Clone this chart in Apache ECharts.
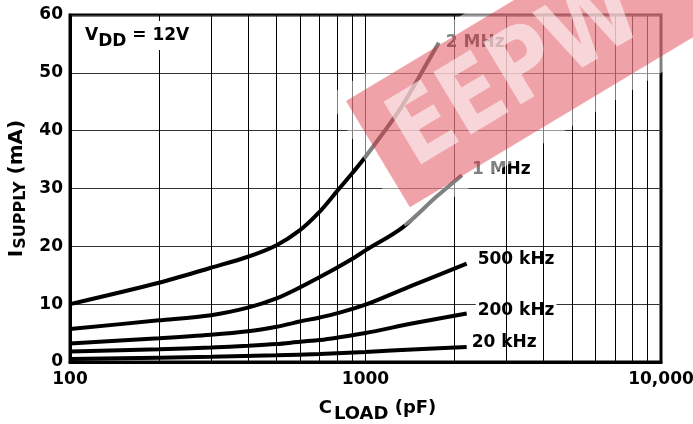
<!DOCTYPE html>
<html><head><meta charset="utf-8">
<script src="https://cdn.jsdelivr.net/npm/echarts@6/dist/echarts.min.js"></script>
<style>html,body{margin:0;padding:0;background:#fff}#c{width:693px;height:424px}</style>
</head><body><div id="c"></div>
<script>
// ---- data ----
const xTickLabels = { 100: '100', 1000: '1000', 10000: '10,000' };
const minorGridX = [200, 300, 400, 500, 600, 700, 800, 900, 2000, 3000, 4000, 5000, 6000, 7000, 8000, 9000];
const seriesNames = ['2 MHz', '1 MHz', '500 kHz', '200 kHz', '20 kHz'];

const c2MHz = [100, 200, 300, 400, 500, 600, 700, 800, 900, 1000, 1300, 1650, 1770];
const i2MHz = [10, 13.7, 16.3, 18.2, 20.2, 22.8, 26.0, 29.5, 32.6, 35.5, 43.5, 52.5, 55.2];

const c1MHz = [100, 200, 300, 400, 500, 600, 700, 800, 900, 1000, 1330, 1740, 2120];
const i1MHz = [5.7, 7.2, 8.1, 9.4, 11.0, 12.9, 14.7, 16.3, 17.8, 19.3, 23.2, 28.6, 32.3];

const c500k = [100, 200, 300, 400, 500, 600, 700, 800, 1000, 1450, 2200];
const i500k = [3.2, 4.1, 4.7, 5.3, 6.1, 7.0, 7.7, 8.4, 9.9, 13.3, 17.0];

const c200k = [100, 200, 300, 400, 500, 600, 700, 800, 1000, 1450, 2200];
const i200k = [1.8, 2.2, 2.5, 2.8, 3.1, 3.5, 3.8, 4.2, 5.0, 6.7, 8.4];

const c20k = [100, 200, 300, 500, 700, 1000, 1500, 2200];
const i20k = [0.5, 0.75, 0.9, 1.15, 1.4, 1.75, 2.2, 2.6];

// ---- chart ----
const FONT = '"DejaVu Sans", sans-serif';
const zip = (xs, ys) => xs.map((x, i) => [x, ys[i]]);
const curves = [
  { name: seriesNames[0], data: zip(c2MHz, i2MHz), off: [5, 0] },
  { name: seriesNames[1], data: zip(c1MHz, i1MHz), off: [8, -6] },
  { name: seriesNames[2], data: zip(c500k, i500k), off: [9, -4] },
  { name: seriesNames[3], data: zip(c200k, i200k), off: [9, -3] },
  { name: seriesNames[4], data: zip(c20k, i20k), off: [3, -4] }
];

const series = curves.map((c) => ({
  type: 'line', name: c.name, data: c.data, smooth: 0.3, symbol: 'none',
  lineStyle: { color: '#000', width: 4 }, z: 3,
  endLabel: {
    show: true, formatter: '{a}', distance: 0, offset: c.off,
    fontFamily: FONT, fontWeight: 'bold', fontSize: 17, color: '#000',
    backgroundColor: '#fff', padding: [0, 2]
  },
  animation: false
}));
series.push({
  type: 'line', data: [], z: 1, animation: false,
  markLine: {
    silent: true, symbol: ['none', 'none'], label: { show: false },
    lineStyle: { color: '#000', width: 1, type: 'solid' },
    data: minorGridX.map(v => ({ xAxis: v })), animation: false
  }
});

const DEG = Math.PI / 180;
const chart = echarts.init(document.getElementById('c'));
chart.setOption({
  backgroundColor: '#fff',
  animation: false,
  grid: {
    left: 70, right: 32, top: 15, bottom: 62, containLabel: false, outerBoundsMode: 'none',
    show: true, borderColor: '#000', borderWidth: 3
  },
  xAxis: {
    type: 'log', logBase: 10, min: 100, max: 10000,
    axisLine: { show: true, lineStyle: { color: '#000', width: 3 } },
    axisTick: { show: false },
    splitLine: { show: true, lineStyle: { color: '#000', width: 1 } },
    axisLabel: {
      margin: 9, fontFamily: FONT, fontWeight: 'bold', fontSize: 17, color: '#000',
      formatter: v => xTickLabels[Math.round(v)] || ''
    },
    name: '{n|C}{s|LOAD}{n| (pF)}', nameLocation: 'middle', nameGap: 31,
    nameTextStyle: {
      padding: [0, 0, 0, 24],
      rich: {
        n: { fontFamily: FONT, fontWeight: 'bold', fontSize: 18, color: '#000' },
        s: { fontFamily: FONT, fontWeight: 'bold', fontSize: 18, color: '#000', padding: [12, 0, 0, 2] }
      }
    }
  },
  yAxis: {
    type: 'value', min: 0, max: 60, interval: 10,
    axisLine: { show: true, lineStyle: { color: '#000', width: 3 } },
    axisTick: { show: false },
    splitLine: { show: true, lineStyle: { color: '#333', width: 1 } },
    axisLabel: { margin: 7, fontFamily: FONT, fontWeight: 'bold', fontSize: 17, color: '#000' },
    name: '{n|I}{s|SUPPLY}{n| (mA)}', nameLocation: 'middle', nameGap: 40,
    nameTextStyle: {
      rich: {
        n: { fontFamily: FONT, fontWeight: 'bold', fontSize: 20, color: '#000' },
        s: { fontFamily: FONT, fontWeight: 'bold', fontSize: 16, color: '#000', padding: [8, 0, 0, 1] }
      }
    }
  },
  graphic: [
    {
      type: 'text', x: 82, y: 21, z: 50,
      style: {
        text: '{n|V}{s|DD}{n| = 12V}',
        backgroundColor: '#fff', padding: [0, 3],
        rich: {
          n: { fontFamily: FONT, fontWeight: 'bold', fontSize: 17, fill: '#000' },
          s: { fontFamily: FONT, fontWeight: 'bold', fontSize: 17, fill: '#000', padding: [12, 0, 0, 0] }
        }
      }
    },
    {
      type: 'group', x: 346, y: 101, rotation: 31 * DEG, z: 100, silent: true,
      children: [
        {
          type: 'rect', z: 100,
          shape: { x: -14, y: -14, width: 560, height: 152 },
          style: { fill: 'rgba(255,255,255,0.5)' }
        },
        {
          type: 'rect', z: 101,
          shape: { x: 0, y: 0, width: 540, height: 124 },
          style: { fill: 'rgba(216,35,47,0.42)' }
        },
        {
          type: 'text', x: 24, y: 67, scaleX: 0.85, z: 102,
          style: {
            text: 'EEPW', fontFamily: FONT, fontWeight: 'bold', fontSize: 100,
            fill: 'rgba(255,255,255,0.55)',
            textAlign: 'left', textVerticalAlign: 'middle'
          }
        }
      ]
    }
  ],
  series: series
});
</script>
</body></html>
